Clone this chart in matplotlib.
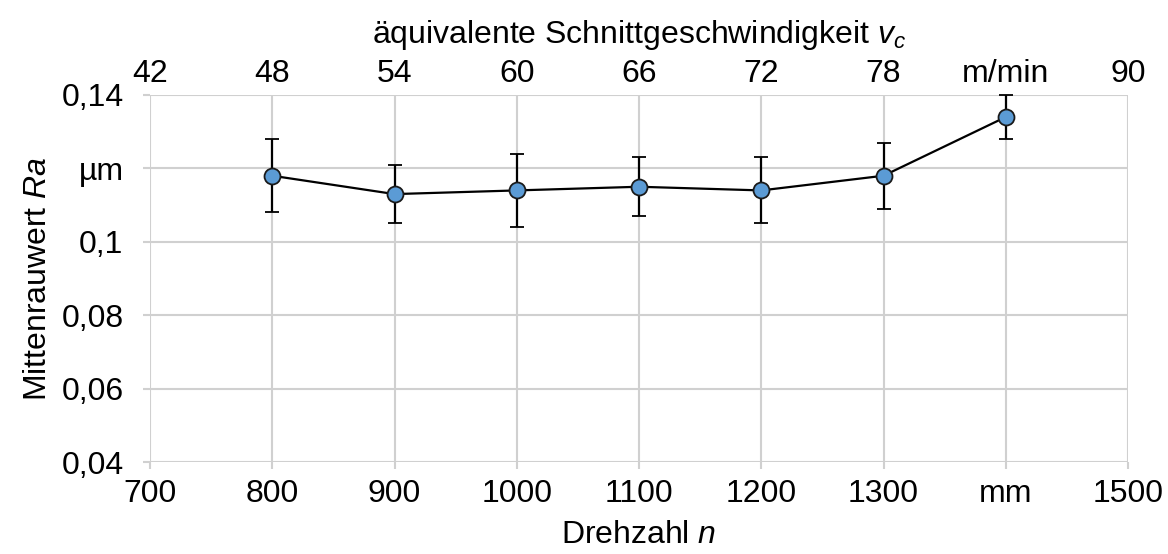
import matplotlib
matplotlib.use("Agg")
import matplotlib.pyplot as plt

plt.rcParams["font.family"] = ["Liberation Sans", "DejaVu Sans"]
plt.rcParams["mathtext.fontset"] = "custom"
plt.rcParams["mathtext.rm"] = "Liberation Sans"
plt.rcParams["mathtext.it"] = "Liberation Sans:italic"

# Measured data
drehzahl = [800, 900, 1000, 1100, 1200, 1300, 1400]
ra_mean = [0.118, 0.113, 0.114, 0.115, 0.114, 0.118, 0.134]
ra_err = [0.010, 0.008, 0.010, 0.008, 0.009, 0.009, 0.006]

x_ticks = [700, 800, 900, 1000, 1100, 1200, 1300, 1400, 1500]
x_labels = ["700", "800", "900", "1000", "1100", "1200", "1300", "mm", "1500"]
y_ticks = [0.04, 0.06, 0.08, 0.10, 0.12, 0.14]
y_labels = ["0,04", "0,06", "0,08", "0,1", "µm", "0,14"]
top_ticks = [42, 48, 54, 60, 66, 72, 78, 84, 90]
top_labels = ["42", "48", "54", "60", "66", "72", "78", "m/min", "90"]

grid_color = "#d0d0d0"
fs = 23

fig = plt.figure(figsize=(11.68, 5.54), dpi=100)
ax = fig.add_axes([150 / 1168, 1 - 462 / 554, (1128 - 150) / 1168, (462 - 95) / 554])

ax.errorbar(drehzahl, ra_mean, yerr=ra_err, color="black", lw=1.6,
            ecolor="black", elinewidth=1.6, capsize=5, capthick=1.6,
            marker="o", markersize=11.5, markerfacecolor="#5b9bd5",
            markeredgecolor="#1a1a1a", markeredgewidth=1.3, zorder=3,
            clip_on=False)

ax.set_xlim(700, 1500)
ax.set_ylim(0.04, 0.14)
ax.set_xticks(x_ticks)
ax.set_xticklabels(x_labels)
ax.set_yticks(y_ticks)
ax.set_yticklabels(y_labels)
ax.grid(True, color=grid_color, lw=1.5)
ax.set_axisbelow(True)
for s in ax.spines.values():
    s.set_visible(False)
ax.tick_params(axis="both", labelsize=fs, color=grid_color, width=1.5, length=5)
ax.tick_params(axis="x", pad=7)
ax.tick_params(axis="y", pad=14)

ax.set_xlabel("Drehzahl $\\mathit{n}$", fontsize=fs, labelpad=8)
ax.set_ylabel("Mittenrauwert $\\mathit{Ra}$", fontsize=fs, labelpad=6)

top = ax.twiny()
top.set_xlim(42, 90)
top.set_xticks(top_ticks)
top.set_xticklabels(top_labels)
top.tick_params(axis="x", labelsize=fs, length=0, pad=4)
for s in top.spines.values():
    s.set_visible(False)
top.set_xlabel("äquivalente Schnittgeschwindigkeit $\\mathit{v}_\\mathit{c}$",
               fontsize=fs, labelpad=12)

fig.savefig("out.png", dpi=100)
